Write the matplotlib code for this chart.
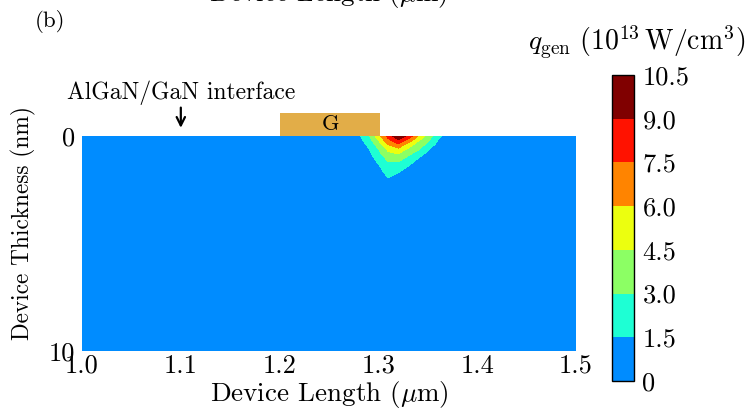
import numpy as np
import matplotlib
matplotlib.use("Agg")
import matplotlib.pyplot as plt
from matplotlib.colors import ListedColormap, BoundaryNorm
from matplotlib.patches import Rectangle

plt.rcParams["font.family"] = "serif"
plt.rcParams["font.serif"] = ["cmr10"]
plt.rcParams["mathtext.fontset"] = "cm"
plt.rcParams["axes.formatter.use_mathtext"] = True

# Heat generation field q_gen (1e13 W/cm^3) sampled near the gate drain edge
x_pts = [1.0, 1.27, 1.28, 1.29, 1.30, 1.31, 1.32, 1.33, 1.34, 1.35, 1.36, 1.37, 1.38, 1.5]
depth_pts = [0.0, 0.2, 0.4, 0.6, 0.8, 1.0, 1.2, 1.4, 1.6, 1.8, 2.0, 2.2, 10.0]
q_d00 = [0, 0.5, 1.2, 2.7, 5.4, 8.0, 10.4, 8.5, 6.0, 3.9, 1.9, 0.8, 0.3, 0]
q_d02 = [0, 0.3, 0.9, 2.3, 4.5, 7.1, 8.7, 7.0, 4.7, 3.3, 1.5, 0.5, 0.2, 0]
q_d04 = [0, 0.2, 0.7, 1.8, 3.6, 6.0, 7.2, 5.3, 3.8, 2.6, 1.0, 0.3, 0.1, 0]
q_d06 = [0, 0.1, 0.5, 1.4, 3.0, 4.9, 5.7, 4.3, 3.2, 1.7, 0.6, 0.2, 0.1, 0]
q_d08 = [0, 0.1, 0.4, 1.1, 2.6, 4.2, 4.6, 3.4, 2.5, 1.1, 0.4, 0.1, 0, 0]
q_d10 = [0, 0, 0.3, 0.8, 2.1, 3.5, 3.8, 2.7, 1.6, 0.7, 0.3, 0.1, 0, 0]
q_d12 = [0, 0, 0.2, 0.6, 1.7, 3.0, 3.0, 2.0, 1.1, 0.5, 0.2, 0, 0, 0]
q_d14 = [0, 0, 0.1, 0.4, 1.3, 2.6, 2.3, 1.5, 0.8, 0.3, 0.1, 0, 0, 0]
q_d16 = [0, 0, 0.1, 0.3, 1.0, 2.2, 1.7, 1.1, 0.5, 0.2, 0.1, 0, 0, 0]
q_d18 = [0, 0, 0, 0.2, 0.7, 1.8, 1.3, 0.7, 0.3, 0.1, 0, 0, 0, 0]
q_d20 = [0, 0, 0, 0.1, 0.4, 1.4, 0.9, 0.5, 0.2, 0.1, 0, 0, 0, 0]
q_d22 = [0, 0, 0, 0, 0.2, 1.0, 0.6, 0.3, 0.1, 0, 0, 0, 0, 0]
q_d100 = [0] * 14

levels = [0, 1.5, 3.0, 4.5, 6.0, 7.5, 9.0, 10.5]
level_labels = ["0", "1.5", "3.0", "4.5", "6.0", "7.5", "9.0", "10.5"]
band_colors = ["#008cff", "#1effd4", "#8cff64", "#ecff0f", "#ff8400", "#ff1200", "#800000"]

x_ticks = [1.0, 1.1, 1.2, 1.3, 1.4, 1.5]
x_tick_labels = ["1.0", "1.1", "1.2", "1.3", "1.4", "1.5"]
y_ticks = [0, 10]
y_tick_labels = ["0", "10"]

gate_x = (1.2, 1.302)
gate_height = 1.07
interface_x = 1.1

Q = np.array([q_d00, q_d02, q_d04, q_d06, q_d08, q_d10, q_d12, q_d14,
              q_d16, q_d18, q_d20, q_d22, q_d100])
X, Y = np.meshgrid(x_pts, depth_pts)

fig = plt.figure(figsize=(7.47, 4.13), dpi=100)
ax = fig.add_axes([0.1098, 0.1501, 0.6613, 0.5206])

cmap = ListedColormap(band_colors)
norm = BoundaryNorm(levels, cmap.N)
cf = ax.contourf(X, Y, Q, levels=levels, cmap=cmap, norm=norm)

ax.set_xlim(1.0, 1.5)
ax.set_ylim(10, 0)
for s in ax.spines.values():
    s.set_visible(False)
ax.set_xticks(x_ticks)
ax.set_xticklabels(x_tick_labels)
ax.set_yticks(y_ticks)
ax.set_yticklabels(y_tick_labels)
ax.tick_params(length=0, labelsize=19, pad=5)
ax.tick_params(axis="x", pad=2)
ax.set_xlabel(r"Device Length ($\mu$m)", fontsize=19.5, labelpad=1)
ax.set_ylabel("Device Thickness (nm)", fontsize=16.8, va="center")
ax.yaxis.set_label_coords(-0.118, 0.595)

# Gate contact sitting on top of the barrier
ax.add_patch(Rectangle((gate_x[0], -gate_height), gate_x[1] - gate_x[0], gate_height,
                       facecolor="#e2ad48", edgecolor="none", clip_on=False, zorder=3))
ax.text((gate_x[0] + gate_x[1]) / 2, -gate_height / 2, "G", ha="center", va="center",
        fontsize=16, clip_on=False, zorder=4)

# Interface annotation
ax.annotate("", xy=(interface_x, -0.25), xytext=(interface_x, -1.45),
            arrowprops=dict(arrowstyle="->", lw=1.6, color="black",
                            mutation_scale=15), annotation_clip=False)
ax.text(interface_x, -1.72, "AlGaN/GaN interface", ha="center", va="baseline",
        fontsize=17, clip_on=False)

# Colorbar
cax = fig.add_axes([0.8193, 0.0775, 0.0295, 0.741])
cb = fig.colorbar(cf, cax=cax, ticks=levels)
cb.ax.set_yticklabels(level_labels)
cb.ax.tick_params(length=0, labelsize=19, pad=6)
cb.outline.set_linewidth(1.0)
fig.text(0.852, 0.898, r"$q_{\mathrm{gen}}\ (10^{13}\,\mathrm{W/cm^3})$",
         ha="center", va="center", fontsize=20)

fig.text(0.047, 0.947, "(b)", fontsize=16.5, ha="left", va="center")
fig.text(0.44, 0.997, r"Device Length ($\mu$m)", fontsize=19.5, ha="center", va="baseline")

fig.savefig("out.png", dpi=100)
